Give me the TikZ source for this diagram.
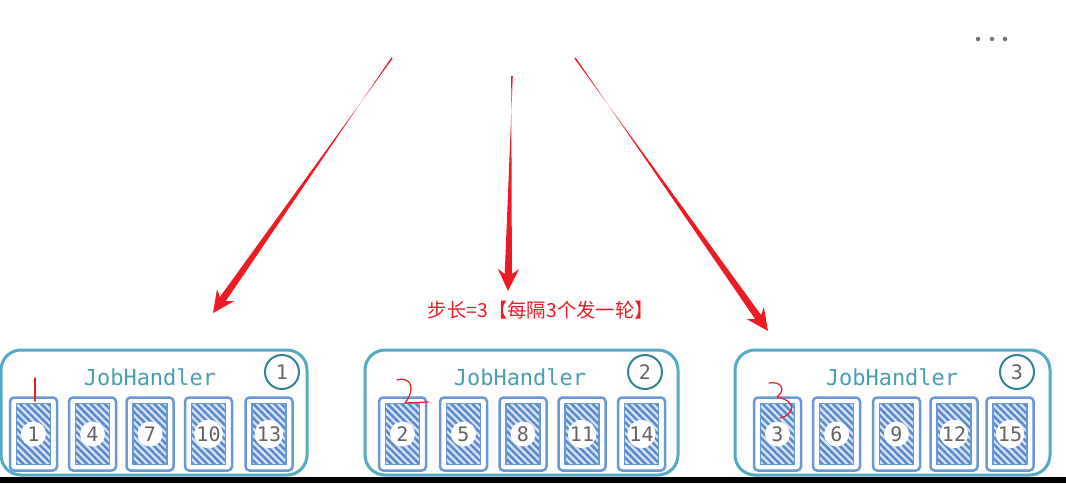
\documentclass[tikz,border=0pt]{standalone}
\usepackage{fontspec}
\setmainfont{DejaVu Sans}
\newfontfamily\monof{DejaVu Sans Mono}
\newfontfamily\cjk{Noto Sans CJK SC}
\usetikzlibrary{calc,patterns.meta}
\definecolor{tealbox}{RGB}{84,170,195}
\definecolor{tealdark}{RGB}{48,132,148}
\definecolor{tealtext}{RGB}{72,158,178}
\definecolor{cardblue}{RGB}{104,152,214}
\definecolor{stripe}{RGB}{88,136,206}
\definecolor{cardbg}{RGB}{214,228,246}
\definecolor{arrred}{RGB}{237,28,36}
\definecolor{numgray}{RGB}{100,100,100}
\definecolor{dotgray}{RGB}{115,115,115}
\newcommand\taperarrow[3]{%
  \coordinate (#3j) at ($(#2)!17pt!(#1)$);
  \coordinate (#3w) at ($(#2)!22pt!(#1)$);
  \fill[arrred] ($(#1)!0.8pt!90:(#2)$) -- ($(#3j)!3.6pt!-90:(#2)$) -- ($(#3w)!10.5pt!-90:(#2)$) -- (#2)
    -- ($(#3w)!10.5pt!90:(#2)$) -- ($(#3j)!3.6pt!90:(#2)$) -- ($(#1)!0.8pt!-90:(#2)$) -- cycle;
}
\begin{document}
\begin{tikzpicture}[x=1pt,y=-1pt,
  hbox/.style={draw=tealbox, line width=3pt, rounded corners=20pt, inner sep=0pt},
  htitle/.style={text=tealtext, font=\monof\fontsize{22}{22}\selectfont, inner sep=0pt},
  badge/.style={circle, draw=tealdark, line width=2pt, minimum size=34pt, inner sep=0pt,
    text=numgray, font=\monof\fontsize{20}{20}\selectfont},
  cardout/.style={draw=cardblue, line width=2.5pt, rounded corners=4pt, fill=white,
    minimum width=47pt, minimum height=73pt, inner sep=0pt},
  cardin/.style={draw=cardblue, line width=1.8pt, preaction={fill=cardbg},
    pattern={Lines[angle=-45,distance=5pt,line width=2.4pt]}, pattern color=stripe,
    minimum width=34pt, minimum height=61pt, inner sep=0pt},
  cardnum/.style={circle, fill=white, minimum size=25pt, inner sep=0pt,
    text=numgray, font=\monof\fontsize{20}{20}\selectfont},
  redtxt/.style={text=arrred, font=\cjk\fontsize{19.4}{19.4}\selectfont, inner sep=0pt},
  redmark/.style={draw=arrred, line width=1.2pt, line cap=round, line join=round},
  dot/.style={circle, fill=dotgray, minimum size=4.5pt, inner sep=0pt}
]
\useasboundingbox (0,0) rectangle (1066,483);

% handler boxes
\node[hbox, minimum width=306pt, minimum height=125pt] (h1) at (154,412.5) {};
\node[hbox, minimum width=313pt, minimum height=125pt] (h2) at (521.5,412.5) {};
\node[hbox, minimum width=315pt, minimum height=125pt] (h3) at (892.5,412.5) {};

\node[htitle] (t1) at (150,377) {JobHandler};
\node[htitle] (t2) at (520,377) {JobHandler};
\node[htitle] (t3) at (892,377) {JobHandler};

\node[badge] (b1) at (282,372) {1};
\node[badge] (b2) at (645,372) {2};
\node[badge] (b3) at (1017,372) {3};

% cards
\foreach \x/\n in {33.5/1, 92.5/4, 150/7, 208.5/10, 269/13,
                   402.5/2, 463.5/5, 523/8, 582/11, 641.5/14,
                   777.5/3, 836.5/6, 896.5/9, 954/12, 1010/15} {
  \node[cardout] (co\n) at (\x,434) {};
  \node[cardin] (ci\n) at (\x,434) {};
  \node[cardnum] (cn\n) at (\x,434) {\n};
}

% arrows
\coordinate (s1) at (392,58);  \coordinate (e1) at (213,313);
\coordinate (s2) at (512,76);  \coordinate (e2) at (508,291);
\coordinate (s3) at (575,58);  \coordinate (e3) at (768,331);
\taperarrow{s1}{e1}{a1}
\taperarrow{s2}{e2}{a2}
\taperarrow{s3}{e3}{a3}

\node[redtxt] (lbl) at (541,310) {步长=3【每隔3个发一轮】};

% handwritten marks
\draw[redmark] (35,378) -- (35,401);
\draw[redmark] (397,380) .. controls (411,376) and (416,389) .. (405,403) -- (428,402);
\draw[redmark] (769,383) .. controls (782,381) and (786,390) .. (777,397)
  .. controls (800,402) and (792,416) .. (780,418);

% dots
\node[dot] (d1) at (978,39) {};
\node[dot] (d2) at (992,39) {};
\node[dot] (d3) at (1005,39) {};

% bottom bar
\fill[black] (0,477) rectangle (1066,483);
\end{tikzpicture}
\end{document}
